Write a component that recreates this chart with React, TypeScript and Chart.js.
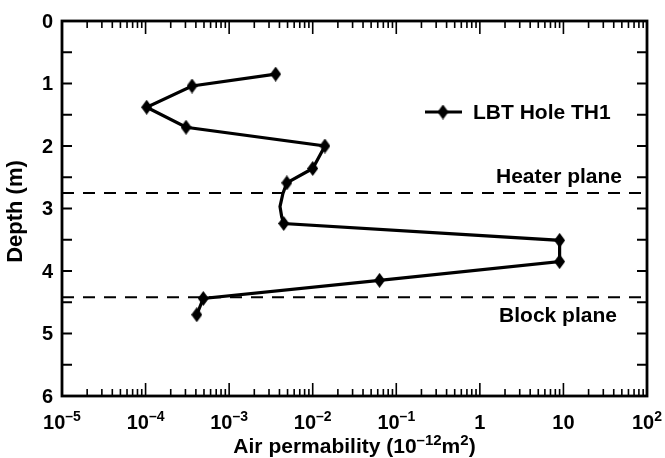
import { useEffect, useRef } from "react";
import { Chart, registerables } from "chart.js";

Chart.register(...registerables);

// Air permeability profile along borehole TH1 (depth in m, permeability in 1e-12 m^2)
const depthM = [0.85, 1.04, 1.38, 1.70, 2.00, 2.36, 2.59, 2.76, 2.97, 3.13, 3.24, 3.51, 3.85, 4.15, 4.44, 4.70];
const permeability = [3.6e-3, 3.6e-4, 1.03e-4, 3.05e-4, 1.4e-2, 1.0e-2, 4.9e-3, 4.4e-3, 4.06e-3, 4.25e-3, 4.5e-3, 9.0, 9.0, 6.3e-2, 4.9e-4, 4.1e-4];
// Measured samples carry a marker; the others only shape the curve between samples
const isSample = [true, true, true, true, true, true, true, false, false, false, true, true, true, true, true, true];

const heaterPlaneDepth = 2.75;
const blockPlaneDepth = 4.42;

const xDecades = [-5, -4, -3, -2, -1, 0, 1, 2];
const depthTicks = [0, 1, 2, 3, 4, 5, 6];
const depthMinorTicks = [0.5, 1.5, 2.5, 3.5, 4.5, 5.5];

const seriesLabel = "LBT Hole TH1";
const heaterLabel = "Heater plane";
const blockLabel = "Block plane";
const yTitle = "Depth (m)";

const FONT = '"Liberation Sans", Arial, Helvetica, sans-serif';

function makeDiamond(w: number, h: number): HTMLCanvasElement {
  const c = document.createElement("canvas");
  c.width = w;
  c.height = h;
  const g = c.getContext("2d")!;
  g.fillStyle = "#000";
  g.beginPath();
  g.moveTo(w / 2, 0);
  g.lineTo(w, h / 2);
  g.lineTo(w / 2, h);
  g.lineTo(0, h / 2);
  g.closePath();
  g.fill();
  return c;
}

type Piece = { t: string; sup?: boolean };

// Writes a run of text with superscript pieces, aligned on its centre
function drawRich(ctx: CanvasRenderingContext2D, pieces: Piece[], cx: number, baseline: number, size: number, supSize: number, raise: number) {
  const widths = pieces.map((p) => {
    ctx.font = `bold ${p.sup ? supSize : size}px ${FONT}`;
    return ctx.measureText(p.t).width;
  });
  const total = widths.reduce((a, b) => a + b, 0);
  let x = cx - total / 2;
  ctx.textAlign = "left";
  ctx.textBaseline = "alphabetic";
  pieces.forEach((p, i) => {
    ctx.font = `bold ${p.sup ? supSize : size}px ${FONT}`;
    ctx.fillText(p.t, x, p.sup ? baseline - raise : baseline);
    x += widths[i];
  });
}

function decadeLabel(e: number): Piece[] {
  if (e === 0) return [{ t: "1" }];
  if (e === 1) return [{ t: "10" }];
  return [{ t: "10" }, { t: e < 0 ? "\u2013" + Math.abs(e) : String(e), sup: true }];
}

const frameAndLabels = {
  id: "frameAndLabels",
  afterDraw(chart: any) {
    const ctx: CanvasRenderingContext2D = chart.ctx;
    const { left, right, top, bottom } = chart.chartArea;
    const xs = chart.scales.x;
    const ys = chart.scales.y;
    ctx.save();
    ctx.strokeStyle = "#000";
    ctx.fillStyle = "#000";

    // x ticks, top and bottom, pointing inward
    ctx.lineWidth = 1.6;
    ctx.beginPath();
    xDecades.forEach((e, i) => {
      const px = xs.getPixelForValue(Math.pow(10, e));
      ctx.moveTo(px, bottom);
      ctx.lineTo(px, bottom - 13);
      ctx.moveTo(px, top);
      ctx.lineTo(px, top + 13);
      if (i < xDecades.length - 1) {
        for (let k = 2; k <= 9; k++) {
          const mx = xs.getPixelForValue(k * Math.pow(10, e));
          ctx.moveTo(mx, bottom);
          ctx.lineTo(mx, bottom - 7);
          ctx.moveTo(mx, top);
          ctx.lineTo(mx, top + 7);
        }
      }
    });
    ctx.stroke();

    // depth ticks, left and right
    ctx.lineWidth = 2;
    ctx.beginPath();
    [...depthTicks, ...depthMinorTicks].forEach((d) => {
      const py = ys.getPixelForValue(d);
      ctx.moveTo(left, py);
      ctx.lineTo(left + 10, py);
      ctx.moveTo(right, py);
      ctx.lineTo(right - 10, py);
    });
    ctx.stroke();

    // frame
    ctx.lineWidth = 2.8;
    ctx.strokeRect(left, top, right - left, bottom - top);

    // depth tick labels
    ctx.font = `bold 20px ${FONT}`;
    ctx.textAlign = "right";
    ctx.textBaseline = "middle";
    depthTicks.forEach((d) => {
      ctx.fillText(String(d), left - 9, ys.getPixelForValue(d) + 1);
    });

    // permeability decade labels
    xDecades.forEach((e) => {
      drawRich(ctx, decadeLabel(e), xs.getPixelForValue(Math.pow(10, e)), bottom + 33, 20, 14, 8);
    });

    // axis titles
    drawRich(
      ctx,
      [{ t: "Air permability (10" }, { t: "\u201312", sup: true }, { t: "m" }, { t: "2", sup: true }, { t: ")" }],
      (left + right) / 2,
      bottom + 57,
      21,
      15,
      8
    );
    ctx.save();
    ctx.translate(16, (top + bottom) / 2 + 3);
    ctx.rotate(-Math.PI / 2);
    ctx.font = `bold 22px ${FONT}`;
    ctx.textAlign = "center";
    ctx.textBaseline = "middle";
    ctx.fillText(yTitle, 0, 0);
    ctx.restore();

    // plane labels
    ctx.font = `bold 21px ${FONT}`;
    ctx.textAlign = "center";
    ctx.textBaseline = "middle";
    ctx.fillText(heaterLabel, 559, ys.getPixelForValue(heaterPlaneDepth) - 16);
    ctx.fillText(blockLabel, 558, ys.getPixelForValue(blockPlaneDepth) + 19);

    // legend
    const ly = 112;
    ctx.lineWidth = 3;
    ctx.beginPath();
    ctx.moveTo(425, ly);
    ctx.lineTo(462, ly);
    ctx.stroke();
    const mk = chart.data.datasets[0].pointStyle;
    ctx.drawImage(mk, 443 - mk.width / 2, ly - mk.height / 2);
    ctx.textAlign = "left";
    ctx.fillText(seriesLabel, 473, ly + 1);

    ctx.restore();
  },
};

export default function App() {
  const ref = useRef<HTMLCanvasElement | null>(null);

  useEffect(() => {
    if (!ref.current) return;
    const marker = makeDiamond(11, 15);
    const points = depthM.map((d, i) => ({ x: permeability[i], y: d }));
    const planeLine = (d: number) => [
      { x: 1e-5, y: d },
      { x: 1e2, y: d },
    ];
    const chart = new Chart(ref.current, {
      type: "scatter",
      data: {
        datasets: [
          {
            label: seriesLabel,
            data: points,
            showLine: true,
            borderColor: "#000",
            backgroundColor: "#000",
            borderWidth: 3.2,
            pointStyle: marker as any,
            pointRadius: (c: any) => (isSample[c.dataIndex] ? 5 : 0),
            tension: 0,
          } as any,
          {
            label: heaterLabel,
            data: planeLine(heaterPlaneDepth),
            showLine: true,
            borderColor: "#000",
            borderWidth: 2,
            borderDash: [12, 9],
            pointRadius: 0,
          },
          {
            label: blockLabel,
            data: planeLine(blockPlaneDepth),
            showLine: true,
            borderColor: "#000",
            borderWidth: 2,
            borderDash: [12, 9],
            pointRadius: 0,
          },
        ],
      },
      options: {
        animation: false,
        responsive: false,
        maintainAspectRatio: false,
        layout: { padding: { left: 62, right: 18, top: 21, bottom: 62 } },
        plugins: { legend: { display: false }, tooltip: { enabled: false } },
        scales: {
          x: { type: "logarithmic", min: 1e-5, max: 1e2, display: false },
          y: { type: "linear", min: 0, max: 6, reverse: true, display: false },
        },
      },
      plugins: [frameAndLabels],
    });
    return () => chart.destroy();
  }, []);

  return (
    <div style={{ position: "fixed", left: 0, top: 0, width: 665, height: 458, background: "#fff" }}>
      <canvas ref={ref} width={665} height={458} style={{ display: "block" }} />
    </div>
  );
}
